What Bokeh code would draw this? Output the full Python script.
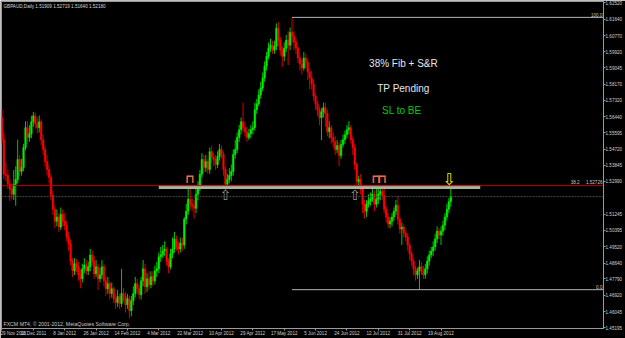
from bokeh.plotting import figure
from bokeh.models import Range1d, FixedTicker, PrintfTickFormatter, Label, Span, ColumnDataSource
from bokeh.embed import file_html
from bokeh.resources import INLINE
from bokeh.core.properties import value

# ---------------- data (GBPAUD daily) ----------------
opens = [1.5639,1.5522,1.5337,1.5331,1.5284,1.5257,1.5231,1.5284,1.5310,1.5416,
 1.5352,1.5374,1.5480,1.5586,1.5533,1.5554,1.5617,1.5649,1.5607,1.5586,
 1.5617,1.5522,1.5469,1.5405,1.5363,1.5321,1.5225,1.5151,1.5087,1.5109,
 1.5056,1.5124,1.5087,1.5066,1.5003,1.4965,1.4875,1.4822,1.4860,1.4844,
 1.4801,1.4780,1.4833,1.4854,1.4822,1.4844,1.4907,1.4875,1.4807,1.4844,
 1.4780,1.4801,1.4844,1.4769,1.4727,1.4754,1.4701,1.4727,1.4674,1.4653,
 1.4685,1.4648,1.4701,1.4685,1.4642,1.4674,1.4610,1.4663,1.4701,1.4754,
 1.4727,1.4695,1.4769,1.4833,1.4738,1.4780,1.4748,1.4791,1.4769,1.4822,
 1.4833,1.4897,1.4907,1.4928,1.4939,1.4875,1.4844,1.4913,1.4939,1.4992,
 1.4950,1.4939,1.4971,1.4960,1.5098,1.5140,1.5204,1.5178,1.5167,1.5156,
 1.5231,1.5268,1.5337,1.5416,1.5374,1.5405,1.5363,1.5458,1.5427,1.5416,
 1.5389,1.5432,1.5469,1.5443,1.5363,1.5284,1.5310,1.5331,1.5352,1.5443,
 1.5469,1.5533,1.5575,1.5617,1.5586,1.5564,1.5533,1.5554,1.5575,1.5586,
 1.5681,1.5713,1.5760,1.5798,1.5851,1.5914,1.5967,1.6010,1.6026,1.5999,
 1.6020,1.6116,1.6052,1.5999,1.5967,1.6010,1.6052,1.6026,1.6094,1.6073,
 1.6041,1.6010,1.5957,1.5925,1.5904,1.5957,1.5935,1.5882,1.5851,1.5819,
 1.5755,1.5713,1.5681,1.5639,1.5670,1.5692,1.5660,1.5564,1.5586,1.5533,
 1.5511,1.5469,1.5490,1.5437,1.5496,1.5522,1.5548,1.5575,1.5586,1.5522,
 1.5480,1.5389,1.5299,1.5310,1.5257,1.5178,1.5140,1.5178,1.5193,1.5204,
 1.5231,1.5178,1.5204,1.5231,1.5246,1.5225,1.5151,1.5109,1.5072,1.5087,
 1.5109,1.5140,1.5172,1.5098,1.5045,1.5056,1.5024,1.5003,1.4960,1.4913,
 1.4875,1.4833,1.4801,1.4822,1.4844,1.4822,1.4801,1.4833,1.4875,1.4907,
 1.4928,1.4950,1.4992,1.5034,1.5013,1.5034,1.5066,1.5109,1.5151,1.5191]

highs = [1.5681,1.5560,1.5400,1.5360,1.5310,1.5290,1.5360,1.5380,1.5522,1.5440,
 1.5420,1.5500,1.5620,1.5620,1.5600,1.5650,1.5670,1.5668,1.5640,1.5650,
 1.5630,1.5550,1.5490,1.5440,1.5390,1.5340,1.5250,1.5170,1.5150,1.5130,
 1.5160,1.5150,1.5130,1.5090,1.5030,1.4990,1.4890,1.4890,1.4885,1.4870,
 1.4830,1.4860,1.4890,1.4880,1.4870,1.4940,1.4930,1.4900,1.4880,1.4860,
 1.4840,1.4880,1.4860,1.4790,1.4790,1.4770,1.4760,1.4740,1.4700,1.4720,
 1.4700,1.4833,1.4730,1.4710,1.4700,1.4690,1.4690,1.4740,1.4790,1.4780,
 1.4750,1.4790,1.4880,1.4860,1.4810,1.4820,1.4820,1.4820,1.4850,1.4870,
 1.4920,1.4950,1.4960,1.4980,1.4950,1.4890,1.4940,1.5000,1.5030,1.5010,
 1.4980,1.5000,1.5000,1.5110,1.5180,1.5260,1.5270,1.5210,1.5200,1.5260,
 1.5300,1.5360,1.5450,1.5440,1.5440,1.5420,1.5480,1.5490,1.5450,1.5440,
 1.5460,1.5500,1.5490,1.5460,1.5380,1.5340,1.5370,1.5390,1.5470,1.5520,
 1.5560,1.5600,1.5640,1.5720,1.5620,1.5590,1.5580,1.5600,1.5620,1.5720,
 1.5740,1.5790,1.5830,1.5880,1.5940,1.5990,1.6040,1.6060,1.6050,1.6050,
 1.6142,1.6150,1.6070,1.6020,1.6040,1.6080,1.6100,1.6120,1.6174,1.6100,
 1.6060,1.6020,1.5970,1.5950,1.5990,1.5980,1.5950,1.5900,1.5890,1.5840,
 1.5770,1.5730,1.5700,1.5690,1.5720,1.5720,1.5680,1.5620,1.5600,1.5560,
 1.5540,1.5520,1.5510,1.5520,1.5550,1.5570,1.5600,1.5620,1.5600,1.5540,
 1.5500,1.5400,1.5330,1.5340,1.5270,1.5200,1.5200,1.5230,1.5240,1.5260,
 1.5250,1.5268,1.5260,1.5268,1.5270,1.5260,1.5170,1.5130,1.5110,1.5130,
 1.5160,1.5200,1.5220,1.5110,1.5080,1.5070,1.5040,1.5020,1.4970,1.4930,
 1.4890,1.4850,1.4840,1.4880,1.4870,1.4850,1.4860,1.4900,1.4930,1.4950,
 1.4980,1.5020,1.5060,1.5050,1.5060,1.5090,1.5130,1.5180,1.5210,1.5272]

lows = [1.5500,1.5310,1.5300,1.5260,1.5195,1.5205,1.5200,1.5170,1.5290,1.5330,
 1.5330,1.5355,1.5465,1.5500,1.5510,1.5530,1.5590,1.5580,1.5555,1.5560,
 1.5490,1.5440,1.5380,1.5330,1.5290,1.5200,1.5120,1.5050,1.5060,1.5030,
 1.5040,1.5060,1.5040,1.4980,1.4930,1.4850,1.4790,1.4800,1.4815,1.4770,
 1.4730,1.4760,1.4810,1.4800,1.4800,1.4820,1.4850,1.4780,1.4790,1.4720,
 1.4760,1.4780,1.4740,1.4690,1.4700,1.4670,1.4680,1.4650,1.4620,1.4630,
 1.4620,1.4630,1.4660,1.4600,1.4620,1.4568,1.4580,1.4640,1.4680,1.4700,
 1.4670,1.4670,1.4740,1.4700,1.4710,1.4720,1.4730,1.4740,1.4750,1.4790,
 1.4810,1.4870,1.4890,1.4900,1.4850,1.4810,1.4830,1.4890,1.4920,1.4930,
 1.4910,1.4920,1.4930,1.4940,1.5070,1.5120,1.5150,1.5140,1.5100,1.5130,
 1.5200,1.5250,1.5320,1.5350,1.5350,1.5340,1.5340,1.5400,1.5380,1.5360,
 1.5370,1.5410,1.5420,1.5330,1.5250,1.5260,1.5290,1.5300,1.5330,1.5420,
 1.5450,1.5510,1.5550,1.5560,1.5540,1.5510,1.5520,1.5530,1.5550,1.5570,
 1.5660,1.5700,1.5740,1.5780,1.5830,1.5890,1.5950,1.5990,1.5980,1.5980,
 1.6000,1.6020,1.5970,1.5910,1.5940,1.5990,1.5920,1.6000,1.6040,1.6000,
 1.5980,1.5930,1.5890,1.5870,1.5890,1.5900,1.5840,1.5790,1.5790,1.5730,
 1.5680,1.5650,1.5600,1.5520,1.5640,1.5590,1.5540,1.5530,1.5500,1.5480,
 1.5440,1.5450,1.5380,1.5420,1.5480,1.5500,1.5530,1.5550,1.5500,1.5440,
 1.5360,1.5260,1.5270,1.5230,1.5130,1.5100,1.5110,1.5160,1.5170,1.5190,
 1.5140,1.5160,1.5180,1.5200,1.5200,1.5130,1.5080,1.5050,1.5050,1.5060,
 1.5090,1.5120,1.5070,1.5020,1.4960,1.5000,1.4980,1.4930,1.4880,1.4850,
 1.4800,1.4770,1.4780,1.4722,1.4800,1.4780,1.4780,1.4810,1.4850,1.4890,
 1.4900,1.4930,1.4970,1.4990,1.4960,1.5010,1.5040,1.5090,1.5130,1.5164]

closes = [1.5522,1.5337,1.5331,1.5284,1.5257,1.5231,1.5284,1.5310,1.5416,1.5352,
 1.5374,1.5480,1.5586,1.5533,1.5554,1.5617,1.5649,1.5607,1.5586,1.5617,
 1.5522,1.5469,1.5405,1.5363,1.5321,1.5225,1.5151,1.5087,1.5109,1.5056,
 1.5124,1.5087,1.5066,1.5003,1.4965,1.4875,1.4822,1.4860,1.4844,1.4801,
 1.4780,1.4833,1.4854,1.4822,1.4844,1.4907,1.4875,1.4807,1.4844,1.4780,
 1.4801,1.4844,1.4769,1.4727,1.4754,1.4701,1.4727,1.4674,1.4653,1.4685,
 1.4648,1.4701,1.4685,1.4642,1.4674,1.4610,1.4663,1.4701,1.4754,1.4727,
 1.4695,1.4769,1.4833,1.4738,1.4780,1.4748,1.4791,1.4769,1.4822,1.4833,
 1.4897,1.4907,1.4928,1.4939,1.4875,1.4844,1.4913,1.4939,1.4992,1.4950,
 1.4939,1.4971,1.4960,1.5098,1.5140,1.5204,1.5178,1.5167,1.5156,1.5231,
 1.5268,1.5337,1.5416,1.5374,1.5405,1.5363,1.5458,1.5427,1.5416,1.5389,
 1.5432,1.5469,1.5443,1.5363,1.5284,1.5310,1.5331,1.5352,1.5443,1.5469,
 1.5533,1.5575,1.5617,1.5586,1.5564,1.5533,1.5554,1.5575,1.5586,1.5681,
 1.5713,1.5760,1.5798,1.5851,1.5914,1.5967,1.6010,1.6026,1.5999,1.6020,
 1.6116,1.6052,1.5999,1.5967,1.6010,1.6052,1.6026,1.6094,1.6073,1.6041,
 1.6010,1.5957,1.5925,1.5904,1.5957,1.5935,1.5882,1.5851,1.5819,1.5755,
 1.5713,1.5681,1.5639,1.5670,1.5692,1.5660,1.5564,1.5586,1.5533,1.5511,
 1.5469,1.5490,1.5437,1.5496,1.5522,1.5548,1.5575,1.5586,1.5522,1.5480,
 1.5389,1.5299,1.5310,1.5257,1.5178,1.5140,1.5178,1.5193,1.5204,1.5231,
 1.5178,1.5204,1.5231,1.5246,1.5225,1.5151,1.5109,1.5072,1.5087,1.5109,
 1.5140,1.5172,1.5098,1.5045,1.5056,1.5024,1.5003,1.4960,1.4913,1.4875,
 1.4833,1.4801,1.4822,1.4844,1.4822,1.4801,1.4833,1.4875,1.4907,1.4928,
 1.4950,1.4992,1.5034,1.5013,1.5034,1.5066,1.5109,1.5151,1.5191,1.5218]

date_ticks = [0, 16, 32, 48, 64, 80, 96, 112, 128, 144, 160, 176, 192, 208, 224]
date_labels = ["29 Nov 2011", "18 Dec 2011", "8 Jan 2012", "26 Jan 2012", "14 Feb 2012",
               "4 Mar 2012", "22 Mar 2012", "10 Apr 2012", "29 Apr 2012", "17 May 2012",
               "5 Jun 2012", "24 Jun 2012", "12 Jul 2012", "31 Jul 2012", "19 Aug 2012"]
price_ticks = [1.62520, 1.61640, 1.60770, 1.59920, 1.59045, 1.58170, 1.57320, 1.56440,
               1.55595, 1.54720, 1.53845, 1.52990, 1.51245, 1.50395, 1.49520, 1.48640,
               1.47790, 1.46920, 1.46045, 1.45195]

fib_high, fib_low = 1.6174, 1.4722      # 100.0 and 0.0 levels
fib_anchor_bar = 148
sr_level = 1.5270                       # thick S&R band
sr_from, sr_to = 80, 244
sell_bars = [96, 191, 194]
sell_price = [1.5310, 1.5310, 1.5310]
buy_bars = [114, 180]
buy_price = [1.5228, 1.5228]
alert_bars = [228]
alert_price = [1.5312]
title_text = "GBPAUD,Daily  1.51909 1.52719 1.51640 1.52180"
bid_text = "1.52180"
fib38_text = "1.52726"

# ---------------- figure ----------------
X0, X1 = -0.25, 306.9
Y0, Y1 = 1.4515, 1.62587
FW, FH = 605, 329
pxw = (X1 - X0) / FW
pxh = (Y1 - Y0) / FH

p = figure(width=625, height=338, x_range=Range1d(X0, X1), y_range=Range1d(Y0, Y1),
           output_backend="svg", toolbar_location=None, y_axis_location="right",
           min_border_left=1, min_border_top=1, min_border_right=19, min_border_bottom=8,
           background_fill_color="#000000", border_fill_color="#000000",
           outline_line_color="#9a9a9a", outline_line_width=1)
p.grid.visible = False

FONT = "Liberation Sans"
for ax in (p.xaxis[0], p.yaxis[0]):
    ax.axis_line_color = "#9a9a9a"
    ax.major_tick_line_color = "#9a9a9a"
    ax.minor_tick_line_color = None
    ax.major_tick_in = 0
    ax.major_tick_out = 2
    ax.major_label_standoff = 0
    ax.major_label_text_font = FONT
    ax.major_label_text_font_size = "4.6px"
    ax.major_label_text_color = "#d0d0d0"

xa = p.xaxis[0]
xa.ticker = FixedTicker(ticks=date_ticks)
xa.major_label_overrides = {t: l for t, l in zip(date_ticks, date_labels)}
xa.major_label_text_align = "left"

ya = p.yaxis[0]
ya.ticker = FixedTicker(ticks=price_ticks)
ya.formatter = PrintfTickFormatter(format="%.5f")

# ---------------- candles ----------------
n = len(closes)
bull = [c >= o for o, c in zip(opens, closes)]
src = ColumnDataSource(dict(
    x=list(range(n)), o=opens, h=highs, l=lows, c=closes,
    top=[max(o, c) for o, c in zip(opens, closes)],
    bot=[min(o, c) for o, c in zip(opens, closes)],
    col=["#00f000" if b else "#ff0000" for b in bull],
    wcol=["#00c800" if b else "#d40000" for b in bull],
))
p.segment(x0="x", y0="l", x1="x", y1="h", source=src, line_color="wcol", line_width=1)
p.vbar(x="x", width=0.8, top="top", bottom="bot", source=src,
       fill_color="col", line_color="col", line_width=0.5)

# ---------------- objects ----------------
fib38 = fib_low + 0.382 * (fib_high - fib_low)
p.segment(x0=[sr_from], y0=[sr_level], x1=[sr_to], y1=[sr_level],
          line_color="#a9b5a2", line_width=4)
p.add_layout(Span(location=fib38, dimension="width", line_color="#c00000", line_width=1))
p.add_layout(Span(location=closes[-1], dimension="width", line_color="#4a4a4a",
                  line_width=1, line_dash="2 1"))
p.segment(x0=[fib_anchor_bar, fib_anchor_bar], y0=[fib_high, fib_low],
          x1=[X1, X1], y1=[fib_high, fib_low], line_color="#b4b4b4", line_width=1)

sm = dict(text_font=value("DejaVu Sans"), text_align="center", text_baseline="middle")
p.text(x=sell_bars, y=sell_price, text=["\u2293"] * len(sell_bars),
       text_color="#f06a4a", text_font_size="12px", text_font_style="bold", **sm)
p.text(x=buy_bars, y=buy_price, text=["\u21e7"] * len(buy_bars),
       text_color="#8a9a8a", text_font_size="14px", **sm)
p.text(x=alert_bars, y=alert_price, text=["\u21e9"] * len(alert_bars),
       text_color="#f0f000", text_font_size="16px", **sm)

def lab(x, y, text, size, color, align="left", base="middle", **kw):
    p.add_layout(Label(x=x, y=y, text=text, text_font=FONT, text_font_size=size,
                       text_color=color, text_align=align, text_baseline=base, **kw))

# chart texts
lab(204.8, 1.5929, "38% Fib + S&R", "10px", "#e6e6e6", align="center")
lab(204.8, 1.5796, "TP Pending", "10px", "#e6e6e6", align="center")
lab(204.0, 1.5676, "SL to BE", "10px", "#10c810", align="center")

# fib level labels
lab(X1 - 1 * pxw, fib_high + 0.8 * pxh, "100.0", "4.6px", "#c8c8c8", align="right", base="bottom")
lab(X1 - 1 * pxw, fib_low + 0.8 * pxh, "0.0", "4.6px", "#c8c8c8", align="right", base="bottom")
lab(X1 - 1 * pxw, fib38 + 1.2 * pxh, fib38_text, "4.6px", "#c8c8c8", align="right", base="bottom")
lab(X0 + 581 * pxw, fib38 + 1.2 * pxh, "38.2", "4.6px", "#c8c8c8", align="right", base="bottom")

# header / footer
lab(X0 + 2 * pxw, Y1 - 2.5 * pxh, title_text, "4.6px", "#d8d8d8", base="top")
lab(X0 + 2 * pxw, Y0 + 4.5 * pxh, "FXCM MT4, \u00a9 2001-2012, MetaQuotes Software Corp.",
    "5.2px", "#c8c8c8")

# price boxes on the axis
lab(X0 + 607 * pxw, fib38, fib38_text, "4.6px", "#ffffff",
    background_fill_color="#e00000")
lab(X0 + 607 * pxw, closes[-1], bid_text, "4.6px", "#000000",
    background_fill_color="#ffffff")

open("out.html", "w").write(file_html(p, INLINE))
